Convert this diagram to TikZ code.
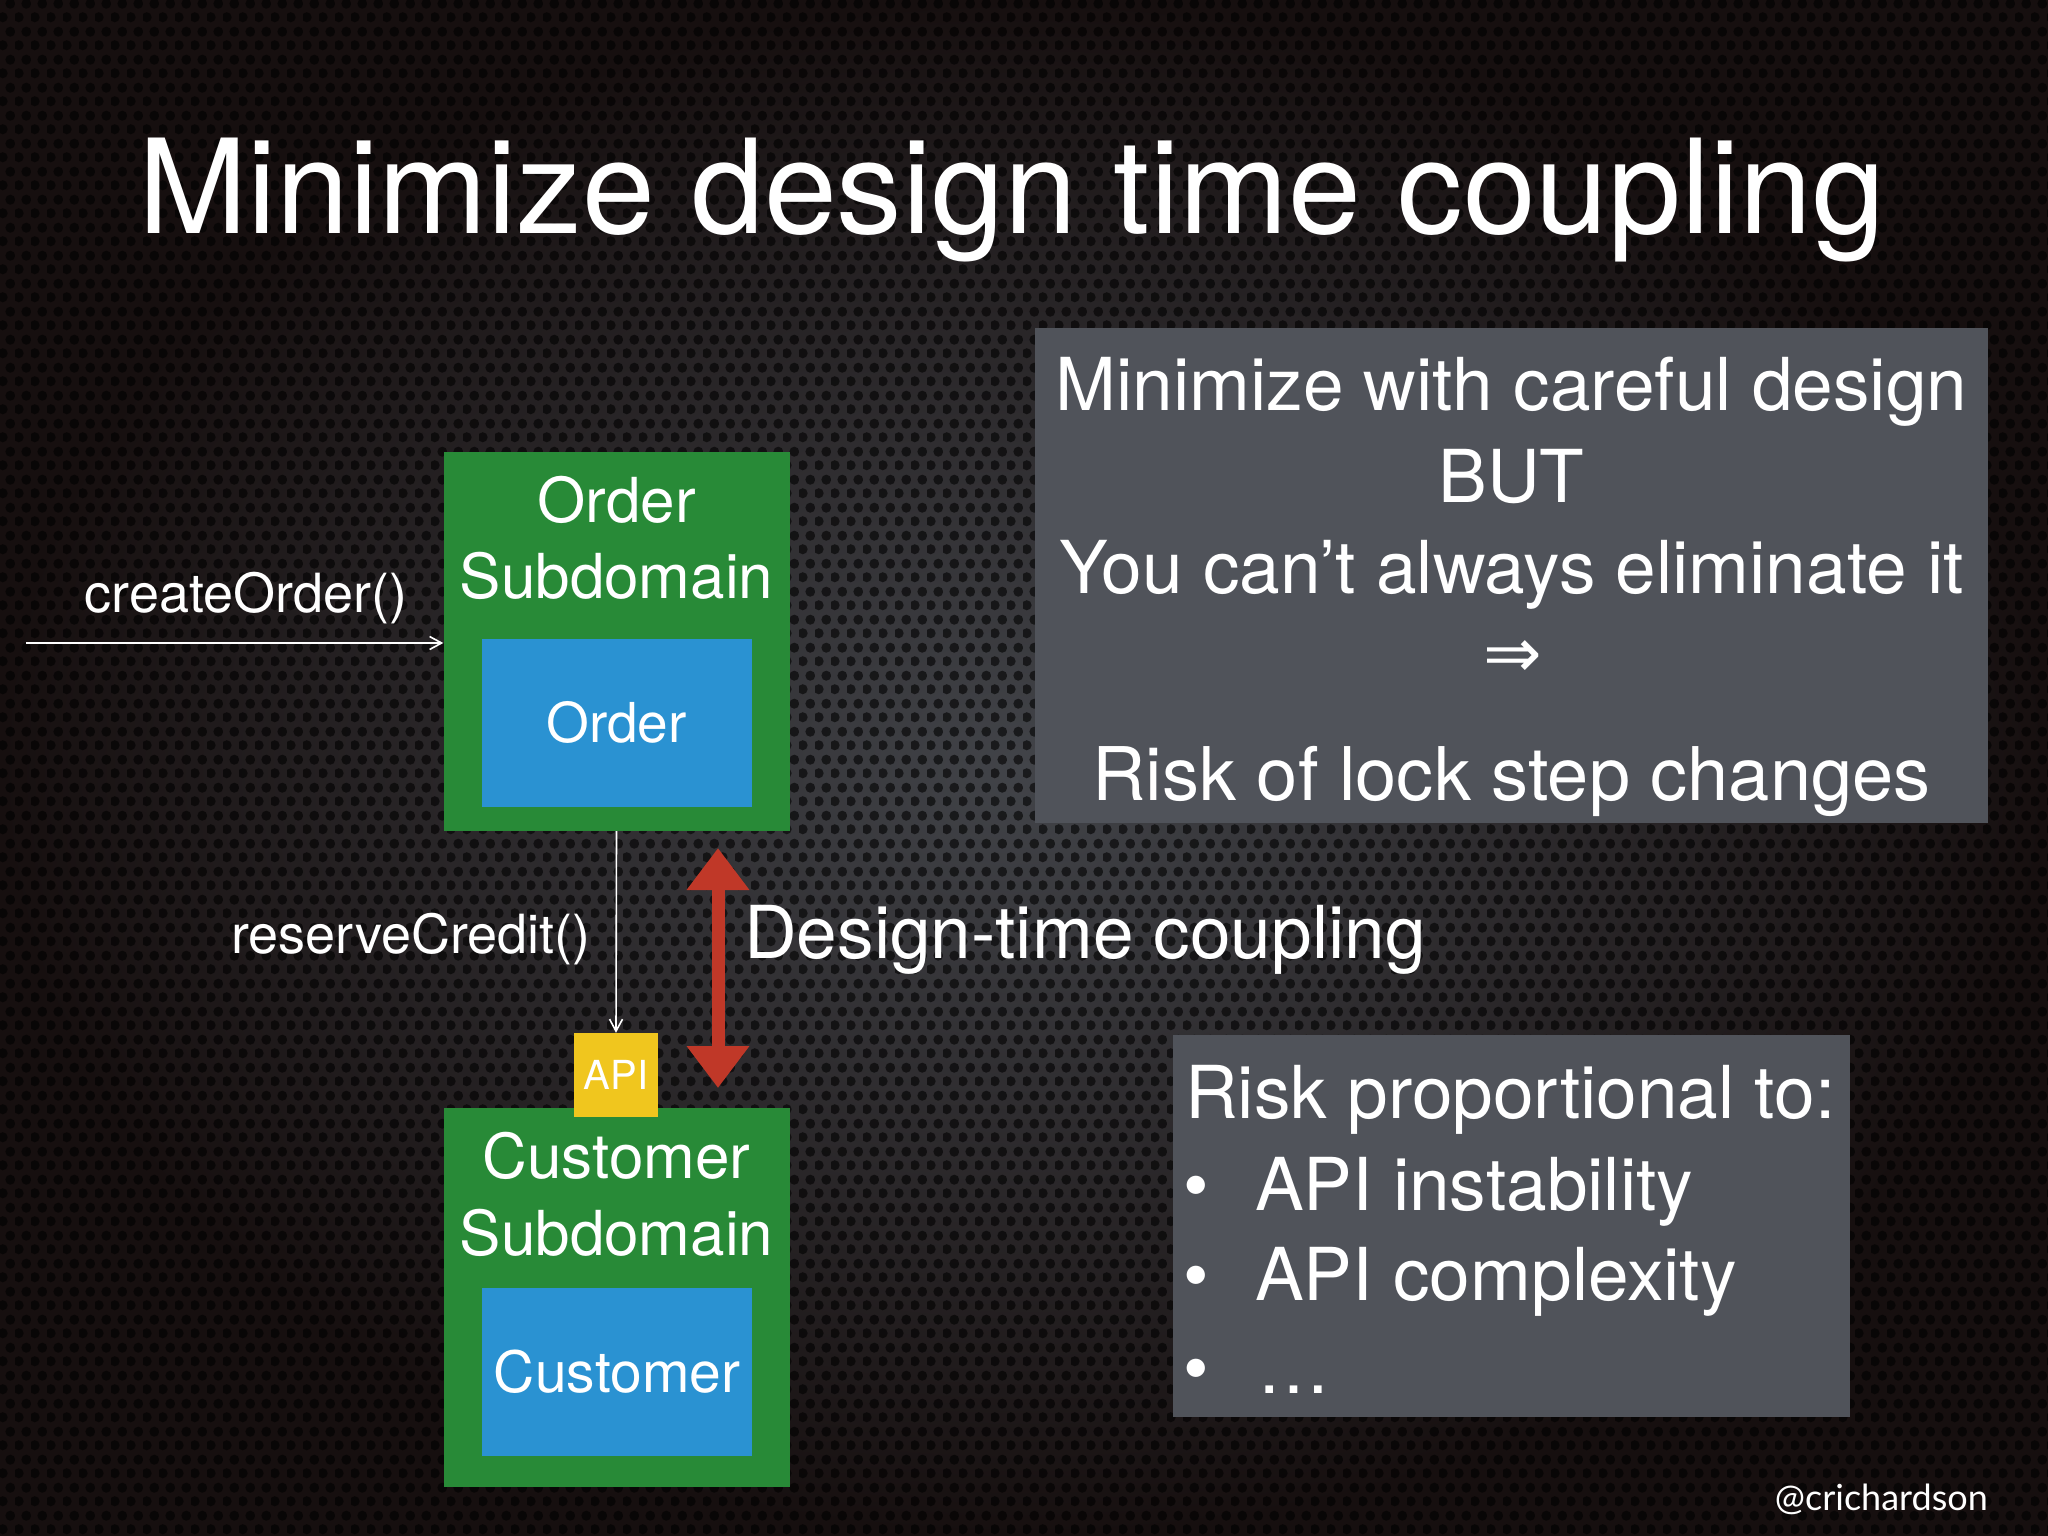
\documentclass[tikz,border=0pt]{standalone}
\usepackage{fontspec}
\setmainfont{TeX Gyre Heros}
\newfontfamily\handlefont{Lato}
\newfontfamily\symfont{DejaVu Sans}
\usetikzlibrary{arrows.meta,patterns}

\pgfdeclarepatternformonly{holes}{\pgfpointorigin}{\pgfpoint{16pt}{28pt}}{\pgfpoint{16pt}{28pt}}{%
  \pgfpathcircle{\pgfpoint{4pt}{7pt}}{5.2pt}%
  \pgfpathcircle{\pgfpoint{12pt}{21pt}}{5.2pt}%
  \pgfusepath{fill}}

\definecolor{bgin}{RGB}{66,68,73}
\definecolor{bgout}{RGB}{22,15,15}
\definecolor{subgreen}{RGB}{40,138,55}
\definecolor{entblue}{RGB}{42,146,210}
\definecolor{apiyellow}{RGB}{240,198,30}
\definecolor{coupred}{RGB}{192,56,40}
\definecolor{panelgrey}{RGB}{80,83,90}

\newcommand{\fs}[1]{\fontsize{#1}{#1}\selectfont}

\begin{document}
\begin{tikzpicture}[x=1pt,y=-1pt,
  subdomain/.style={fill=subgreen, minimum width=346pt, minimum height=379pt, inner sep=0pt},
  entity/.style={fill=entblue, minimum width=270pt, minimum height=168pt, inner sep=0pt, text=white, font=\fs{55}},
  apibox/.style={fill=apiyellow, minimum width=84pt, minimum height=84pt, inner sep=0pt, text=white, font=\fs{40}},
  panel/.style={fill=panelgrey, inner sep=0pt},
  txt/.style={text=white, inner sep=0pt, anchor=base},
  flow/.style={draw=white, line width=1.6pt, -{Straight Barb[length=12pt,width=13pt]}},
  coupling/.style={draw=coupred, line width=13pt, {Triangle[length=42pt,width=60pt]}-{Triangle[length=42pt,width=60pt]}}
]
\useasboundingbox (0,0) rectangle (2048,1536);
% background
\shade[inner color=bgin, outer color=bgout] (0,0) rectangle (2048,1536);
\fill[pattern=holes, pattern color=black, fill opacity=0.6] (0,0) rectangle (2048,1536);

% title
\node[txt, font=\fs{131}, anchor=base west] (title) at (138,233) {Minimize design time coupling};

% order subdomain
\node[subdomain] (osub) at (616.5,641.5) {};
\node[entity] (order) at (616.5,722.5) {Order};
\node[txt, font=\fs{62}] (osubt1) at (616.5,522) {Order};
\node[txt, font=\fs{62}] (osubt2) at (616.5,598) {Subdomain};

% customer subdomain
\node[subdomain] (csub) at (616.5,1297.5) {};
\node[entity, font=\fs{57}] (customer) at (617,1372) {Customer};
\node[txt, font=\fs{62}] (csubt1) at (616.5,1178) {Customer};
\node[txt, font=\fs{62}] (csubt2) at (616.5,1255) {Subdomain};

% API
\node[apibox] (api) at (616,1075) {API};

% connectors
\coordinate (cin) at (26,643);
\draw[flow] (cin) -- (cin -| osub.west);
\draw[flow] (osub.south) -- (api.north);
\node[txt, font=\fs{54}] (createlbl) at (246,612) {createOrder()};
\node[txt, font=\fs{54}] (reservelbl) at (411,953) {reserveCredit()};

% coupling arrow
\coordinate (ctop) at (718,848);
\coordinate (cbot) at (718,1088);
\draw[coupling] (ctop) -- (cbot);
\node[txt, font=\fs{73}, anchor=base west] (couplbl) at (744,958) {Design-time coupling};

% panel 1
\node[panel, minimum width=953pt, minimum height=495pt] (p1) at (1511.5,575.5) {};
\node[txt, font=\fs{73}] (p1l1) at (1511.5,410) {Minimize with careful design};
\node[txt, font=\fs{73}] (p1l2) at (1511.5,502) {BUT};
\node[txt, font=\fs{73}] (p1l3) at (1511.5,593) {You can’t always eliminate it};
\node[txt, font=\symfont\fs{70}, anchor=center] (p1l4) at (1513,659) {⇒};
\node[txt, font=\fs{74}] (p1l5) at (1511.5,800) {Risk of lock step changes};

% panel 2
\node[panel, minimum width=677pt, minimum height=382pt] (p2) at (1511.5,1226) {};
\node[txt, font=\fs{73}, anchor=base west] (p2head) at (1185,1118) {Risk proportional to:};
\node[txt, font=\fs{73}] (b1) at (1196,1210) {•};
\node[txt, font=\fs{73}] (b2) at (1196,1300) {•};
\node[txt, font=\fs{73}] (b3) at (1196,1393) {•};
\node[txt, font=\fs{73}, anchor=base west] (i1) at (1255,1210) {API instability};
\node[txt, font=\fs{73}, anchor=base west] (i2) at (1255,1300) {API complexity};
\node[txt, font=\fs{73}, anchor=base west] (i3) at (1257,1393) {…};

% handle
\node[txt, font=\handlefont\fs{36}, anchor=base east] (handle) at (1988,1510) {@crichardson};
\end{tikzpicture}
\end{document}
